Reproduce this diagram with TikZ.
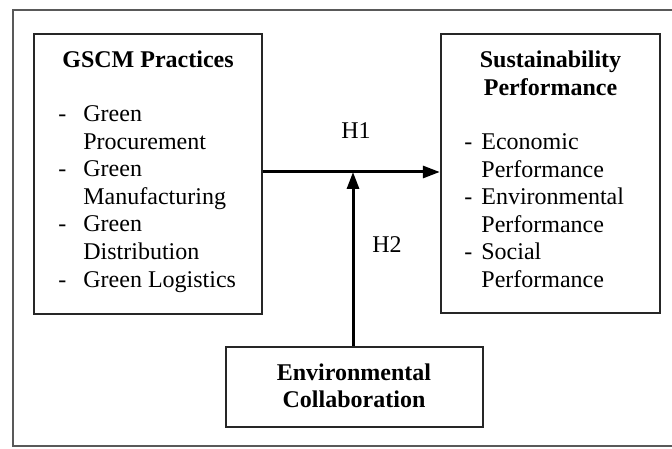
\documentclass[tikz,border=0pt]{standalone}
\usepackage{fontspec}
\setmainfont{Liberation Serif}
\usetikzlibrary{arrows.meta}
\begin{document}
\begin{tikzpicture}[x=0.5pt,y=-0.5pt,
  box/.style={draw=black!85,line width=1.2pt,inner sep=0pt},
  arr/.style={line width=1.5pt,-{Triangle[length=8.5pt,width=6pt]}},
  txt/.style={inner sep=0pt,font=\fontsize{12}{13.75}\selectfont},
  frame/.style={draw=black!65,line width=1pt}]
\useasboundingbox (0,0) rectangle (672,448);
\clip (0,0) rectangle (672,448);
\fill[white] (0,0) rectangle (672,448);
\draw[frame] (690,10) -- (13,10) -- (13,446) -- (690,446);
% boxes
\node[box,minimum width=114pt,minimum height=140pt] (gscm) at (148,174) {};
\node[box,minimum width=109.5pt,minimum height=139.5pt] (sp) at (550.5,173.5) {};
\node[box,minimum width=128.5pt,minimum height=40pt] (ec) at (354.5,387) {};
% titles
\node[txt,anchor=base] (gscmtitle) at (148,68) {\textbf{GSCM Practices}};
\node[txt,anchor=base] (sptitle) at (550.5,68)
  {\begin{tabular}[t]{@{}c@{}}\textbf{Sustainability}\\\textbf{Performance}\end{tabular}};
\node[txt,anchor=base] (ectitle) at (354,380)
  {\begin{tabular}[t]{@{}c@{}}\textbf{Environmental}\\\textbf{Collaboration}\end{tabular}};
% lists
\node[txt,anchor=base west] (gscmlist) at (58,122)
  {\begin{tabular}[t]{@{}p{12.5pt}@{}l@{}}
   - & Green\\
     & Procurement\\
   - & Green\\
     & Manufacturing\\
   - & Green\\
     & Distribution\\
   - & Green Logistics
  \end{tabular}};
\node[txt,anchor=base west] (splist) at (464,150)
  {\begin{tabular}[t]{@{}p{8.5pt}@{}l@{}}
   - & Economic\\
     & Performance\\
   - & Environmental\\
     & Performance\\
   - & Social\\
     & Performance
  \end{tabular}};
% connectors
\coordinate (j) at (353,172);
\draw[arr] (gscm.east |- j) -- (sp.west |- j);
\draw[arr] (ec.north -| j) -- (j);
\node[txt,anchor=base] (h1) at (356,139) {H1};
\node[txt,anchor=base] (h2) at (387,252) {H2};
\end{tikzpicture}
\end{document}
